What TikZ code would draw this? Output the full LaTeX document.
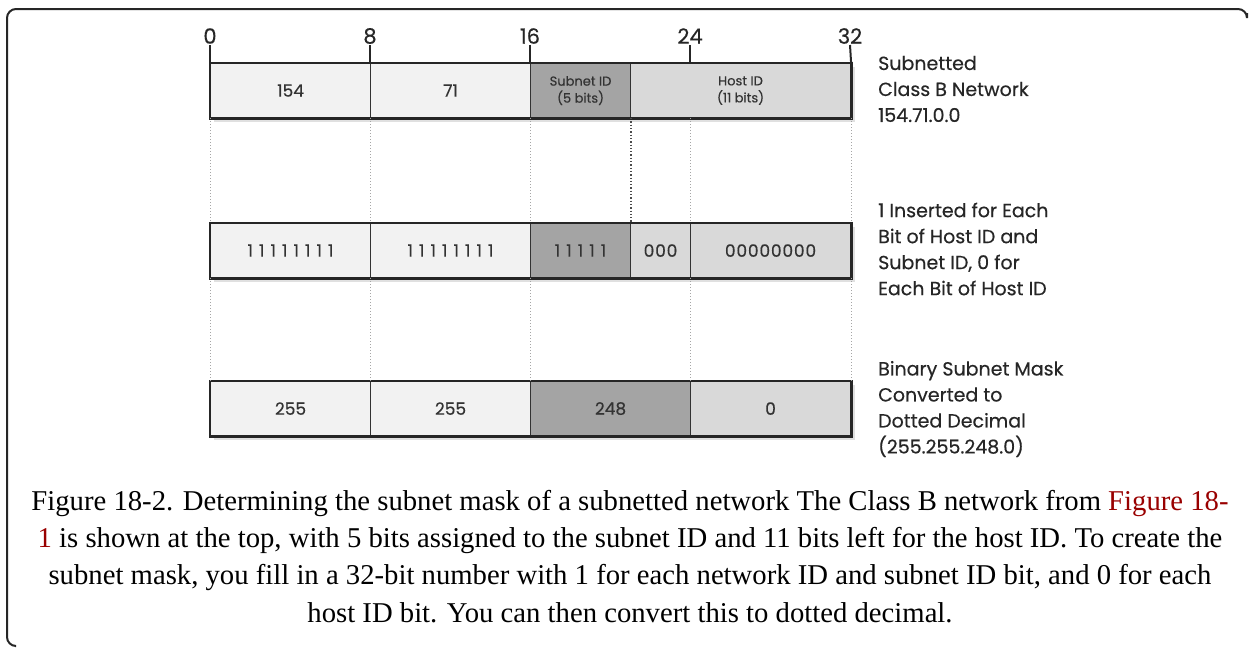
\documentclass[tikz,border=0pt]{standalone}
\usepackage{fontspec}
\setmainfont{Liberation Serif}
\newfontfamily\diag[FakeBold=0.4]{Poppins}
\definecolor{light}{HTML}{F2F2F2}
\definecolor{mid}{HTML}{D9D9D9}
\definecolor{dark}{HTML}{A4A4A4}
\definecolor{linkred}{HTML}{990000}
\newcommand\bitrow[1]{\foreach \d in {#1}{\makebox[11.5pt]{\d}}}
\begin{document}
\begin{tikzpicture}[x=1pt,y=-1pt,
  cell/.style={draw=black!80, line width=1.1pt, minimum height=54pt, inner sep=0pt,
    font=\diag\fontsize{17}{19}\selectfont, text=black!80, anchor=north west},
  small/.style={font=\diag\fontsize{13}{17}\selectfont, align=center},
  outer/.style={draw=black!85, line width=2.8pt},
  shadowbox/.style={fill=black!12, draw=none},
  dotline/.style={draw=black!35, line width=1pt, dotted},
  dotdark/.style={draw=black!70, line width=1.3pt, dotted},
  num/.style={font=\diag\fontsize{21}{23}\selectfont, text=black!85, inner sep=1pt},
  tick/.style={draw=black!85, line width=2pt},
  lab/.style={font=\diag\fontsize{19}{26}\selectfont, text=black!85, align=left, anchor=west, inner sep=0pt},
  captext/.style={font=\fontsize{28.7}{34}\selectfont, inner sep=0pt}]
\useasboundingbox (0,0) rectangle (1249,648);
% frame
\draw[draw=black!85, line width=2pt, rounded corners=9pt] (1247,13) -- (1247,9) -- (7,9) -- (7,646) -- (15,646);
% shadows
\fill[shadowbox] (214,67) rectangle (855,122);
\fill[shadowbox] (214,227) rectangle (855,282);
\fill[shadowbox] (214,385) rectangle (855,440);
% top bar
\node[cell, fill=light, minimum width=160pt] (a1) at (210,63) {154};
\node[cell, fill=light, minimum width=160pt] (a2) at (370,63) {71};
\node[cell, fill=dark, minimum width=100pt, small] (a3) at (530,63) {Subnet ID\\(5 bits)};
\node[cell, fill=mid, minimum width=220pt, small] (a4) at (630,63) {Host ID\\(11 bits)};
\draw[outer] (a1.north west) rectangle (a4.south east);
% middle bar
\node[cell, fill=light, minimum width=160pt] (b1) at (210,223) {\bitrow{1,1,1,1,1,1,1,1}};
\node[cell, fill=light, minimum width=160pt] (b2) at (370,223) {\bitrow{1,1,1,1,1,1,1,1}};
\node[cell, fill=dark, minimum width=100pt] (b3) at (530,223) {\bitrow{1,1,1,1,1}};
\node[cell, fill=mid, minimum width=60pt] (b4) at (630,223) {\bitrow{0,0,0}};
\node[cell, fill=mid, minimum width=160pt] (b5) at (690,223) {\bitrow{0,0,0,0,0,0,0,0}};
\draw[outer] (b1.north west) rectangle (b5.south east);
% bottom bar
\node[cell, fill=light, minimum width=160pt] (c1) at (210,381) {255};
\node[cell, fill=light, minimum width=160pt] (c2) at (370,381) {255};
\node[cell, fill=dark, minimum width=160pt] (c3) at (530,381) {248};
\node[cell, fill=mid, minimum width=160pt] (c4) at (690,381) {0};
\draw[outer] (c1.north west) rectangle (c4.south east);
% numbers and ticks
\node[num] (n0) at (210,36) {0};
\node[num] (n8) at (370,36) {8};
\node[num] (n16) at (530,36) {16};
\node[num] (n24) at (690,36) {24};
\node[num] (n32) at (850,36) {32};
\draw[tick] (n0.south) -- (a1.north west);
\draw[tick] (n8.south) -- (a2.north west);
\draw[tick] (n16.south) -- (a3.north west);
\draw[tick] (n24.south) -- (b5.north west |- a4.north);
\draw[tick] (n32.south) -- (a4.north east);
% dotted guides top -> middle
\draw[dotline] (a1.south west) -- (b1.north west);
\draw[dotline] (a2.south west) -- (b2.north west);
\draw[dotline] (a3.south west) -- (b3.north west);
\draw[dotdark] (a3.south east) -- (b3.north east);
\draw[dotline] (b5.north west |- a4.south) -- (b5.north west);
\draw[dotline] (a4.south east) -- (b5.north east);
% dotted guides middle -> bottom
\draw[dotline] (b1.south west) -- (c1.north west);
\draw[dotline] (b2.south west) -- (c2.north west);
\draw[dotline] (b3.south west) -- (c3.north west);
\draw[dotline] (b5.south west) -- (c4.north west);
\draw[dotline] (b5.south east) -- (c4.north east);
% right labels
\node[lab] (l1) at (878,89) {Subnetted\\Class B Network\\154.71.0.0};
\node[lab] (l2) at (878,249) {1 Inserted for Each\\Bit of Host ID and\\Subnet ID, 0 for\\Each Bit of Host ID};
\node[lab] (l3) at (878,409) {Binary Subnet Mask\\Converted to\\Dotted Decimal\\(255.255.248.0)};
% caption
\node[captext] (k1) at (630,503) {Figure 18-2. Determining the subnet mask of a subnetted network The Class B network from \textcolor{linkred}{Figure 18-}};
\node[captext] (k2) at (630,540) {\textcolor{linkred}{1} is shown at the top, with 5 bits assigned to the subnet ID and 11 bits left for the host ID. To create the};
\node[captext] (k3) at (630,577) {subnet mask, you fill in a 32-bit number with 1 for each network ID and subnet ID bit, and 0 for each};
\node[captext] (k4) at (630,613) {host ID bit. You can then convert this to dotted decimal.};
\end{tikzpicture}
\end{document}
